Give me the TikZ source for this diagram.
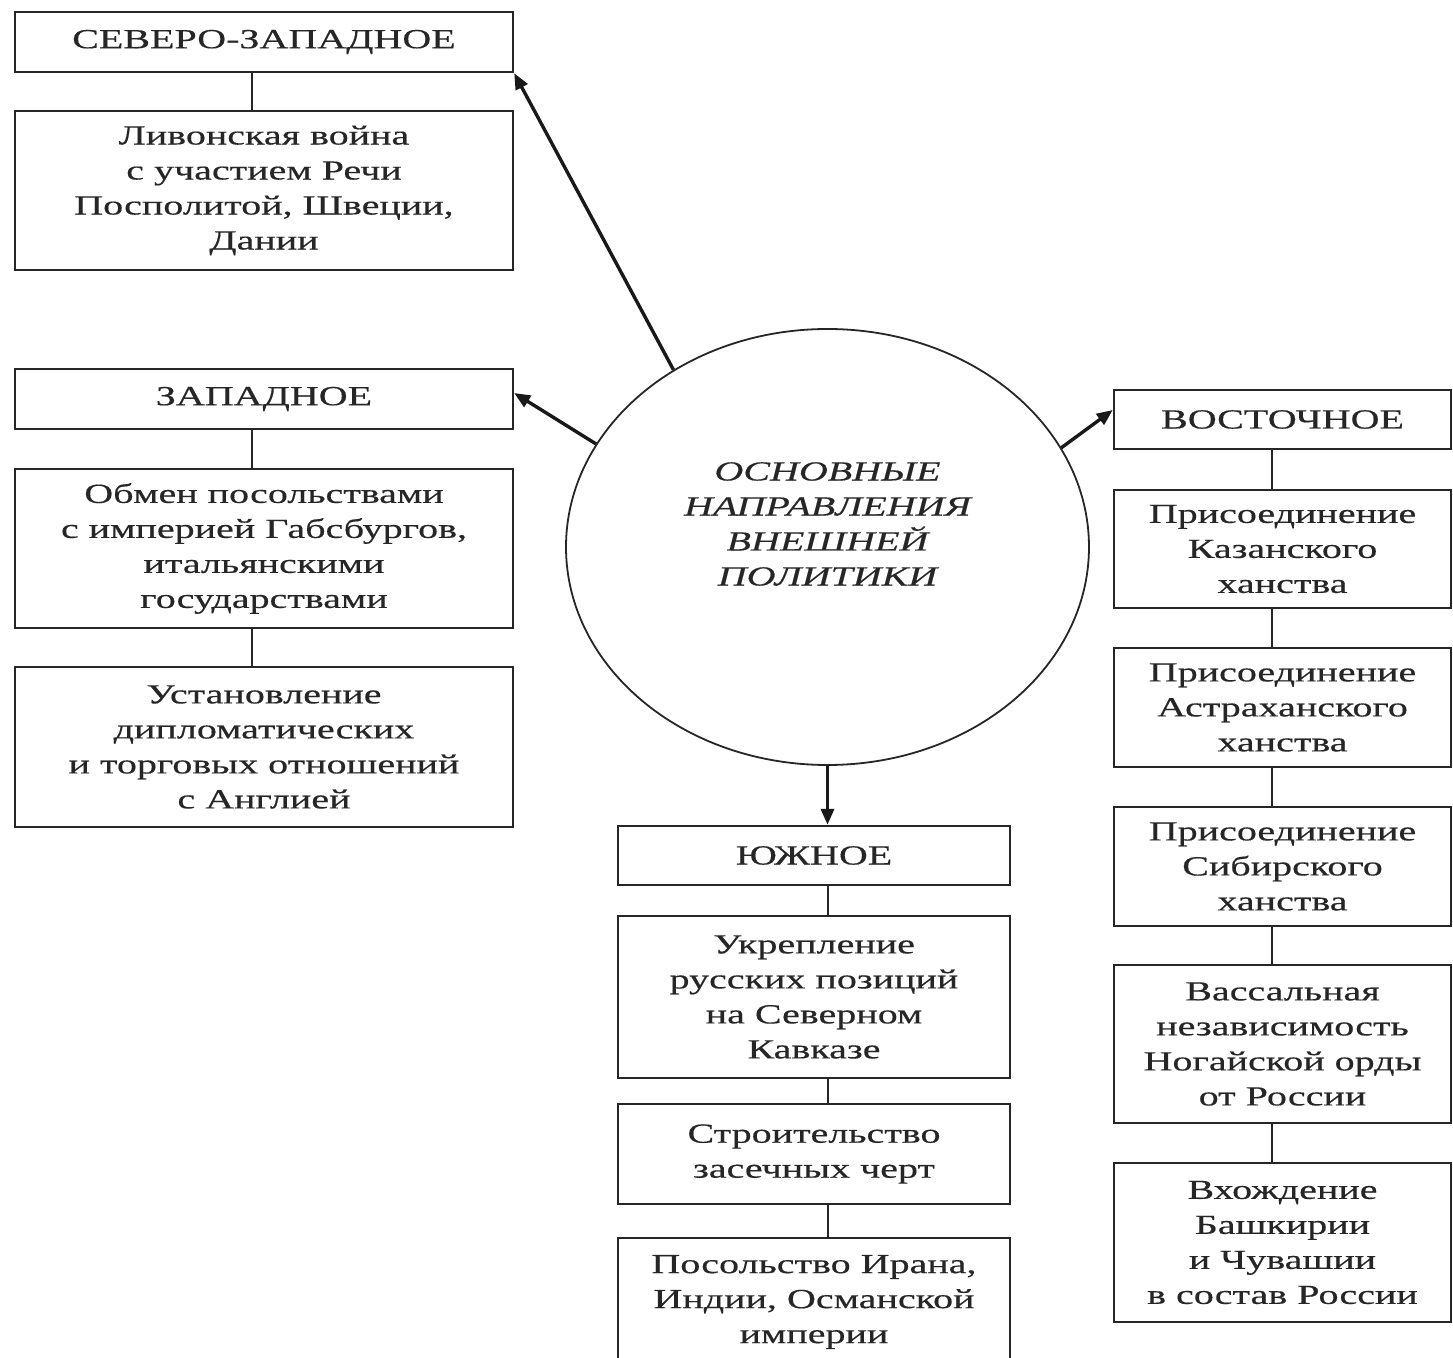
\documentclass[tikz,border=0pt]{standalone}
\usepackage{fontspec}
\setmainfont{Liberation Serif}[FakeStretch=1.45,FakeBold=0.4]
\usetikzlibrary{arrows.meta,calc,shapes.geometric}
\begin{document}
\begin{tikzpicture}[x=0.5pt,y=-0.5pt,
  box/.style={draw=black!85, line width=1.2pt, inner sep=0pt, align=center,
    font=\fontsize{13.8pt}{17.5pt}\selectfont, text=black!85},
  lbox/.style={box, minimum width=249pt},
  rbox/.style={box, minimum width=168.5pt},
  sbox/.style={box, minimum width=196pt},
  link/.style={line width=1pt, draw=black!85},
  arr/.style={line width=1.7pt, draw=black!90, -{Triangle[length=8pt,width=6.5pt]}}]
\clip (0,0) rectangle (1453,1358);
\fill[white] (0,0) rectangle (1453,1358);
% connector columns
\coordinate (lx) at (252,0);
\coordinate (rx) at (1272,0);
% left column
\node[lbox, minimum height=30pt] (nw) at (264,42) {СЕВЕРО-ЗАПАДНОЕ};
\node[lbox, minimum height=79.5pt] (liv) at (264,190.5) {Ливонская война\\с участием Речи\\Посполитой, Швеции,\\Дании};
\node[lbox, minimum height=30pt] (w) at (264,399) {ЗАПАДНОЕ};
\node[lbox, minimum height=79.5pt] (obm) at (264,548.5) {Обмен посольствами\\с империей Габсбургов,\\итальянскими\\государствами};
\node[lbox, minimum height=80pt] (ust) at (264,747) {Установление\\дипломатических\\и торговых отношений\\с Англией};
% right column
\node[rbox, minimum height=29.5pt] (e) at (1282.5,419.5) {ВОСТОЧНОЕ};
\node[rbox, minimum height=59pt] (kaz) at (1282.5,549) {Присоединение\\Казанского\\ханства};
\node[rbox, minimum height=59.5pt] (ast) at (1282.5,707.5) {Присоединение\\Астраханского\\ханства};
\node[rbox, minimum height=59.5pt] (sib) at (1282.5,866.5) {Присоединение\\Сибирского\\ханства};
\node[rbox, minimum height=79pt] (vas) at (1282.5,1044) {Вассальная\\независимость\\Ногайской орды\\от России};
\node[rbox, minimum height=79.5pt] (vh) at (1282.5,1242.5) {Вхождение\\Башкирии\\и Чувашии\\в состав России};
% south column
\node[sbox, minimum height=29.5pt] (s) at (814,855.5) {ЮЖНОЕ};
\node[sbox, minimum height=81pt] (ukr) at (814,997) {Укрепление\\русских позиций\\на Северном\\Кавказе};
\node[sbox, minimum height=50pt] (str) at (814,1154) {Строительство\\засечных черт};
\node[sbox, minimum height=64pt] (pos) at (814,1302) {Посольство Ирана,\\Индии, Османской\\империи};
% central ellipse
\node[draw=black!85, ellipse, line width=0.9pt, minimum width=261.5pt, minimum height=218pt, inner sep=0pt] (c) at (827.5,547) {};
\node[align=center, inner sep=0pt, text=black!85, font=\itshape\fontsize{13.8pt}{17.5pt}\selectfont] (ct) at (827.5,524) {ОСНОВНЫЕ\\НАПРАВЛЕНИЯ\\ВНЕШНЕЙ\\ПОЛИТИКИ};
% connectors
\draw[link] (nw.south -| lx) -- (liv.north -| lx);
\draw[link] (w.south -| lx) -- (obm.north -| lx);
\draw[link] (obm.south -| lx) -- (ust.north -| lx);
\draw[link] (e.south -| rx) -- (kaz.north -| rx);
\draw[link] (kaz.south -| rx) -- (ast.north -| rx);
\draw[link] (ast.south -| rx) -- (sib.north -| rx);
\draw[link] (sib.south -| rx) -- (vas.north -| rx);
\draw[link] (vas.south -| rx) -- (vh.north -| rx);
\draw[link] (s.south -| c.south) -- (ukr.north -| c.south);
\draw[link] (ukr.south -| c.south) -- (str.north -| c.south);
\draw[link] (str.south -| c.south) -- (pos.north -| c.south);
% arrows
\draw[arr] (c.131) -- (nw.south east);
\draw[arr] (c.156.6) -- ([yshift=3pt]w.east);
\draw[arr] (c.23) -- ([yshift=4.75pt]e.west);
\draw[arr] (c.south) -- (s.north -| c.south);
\end{tikzpicture}
\end{document}
